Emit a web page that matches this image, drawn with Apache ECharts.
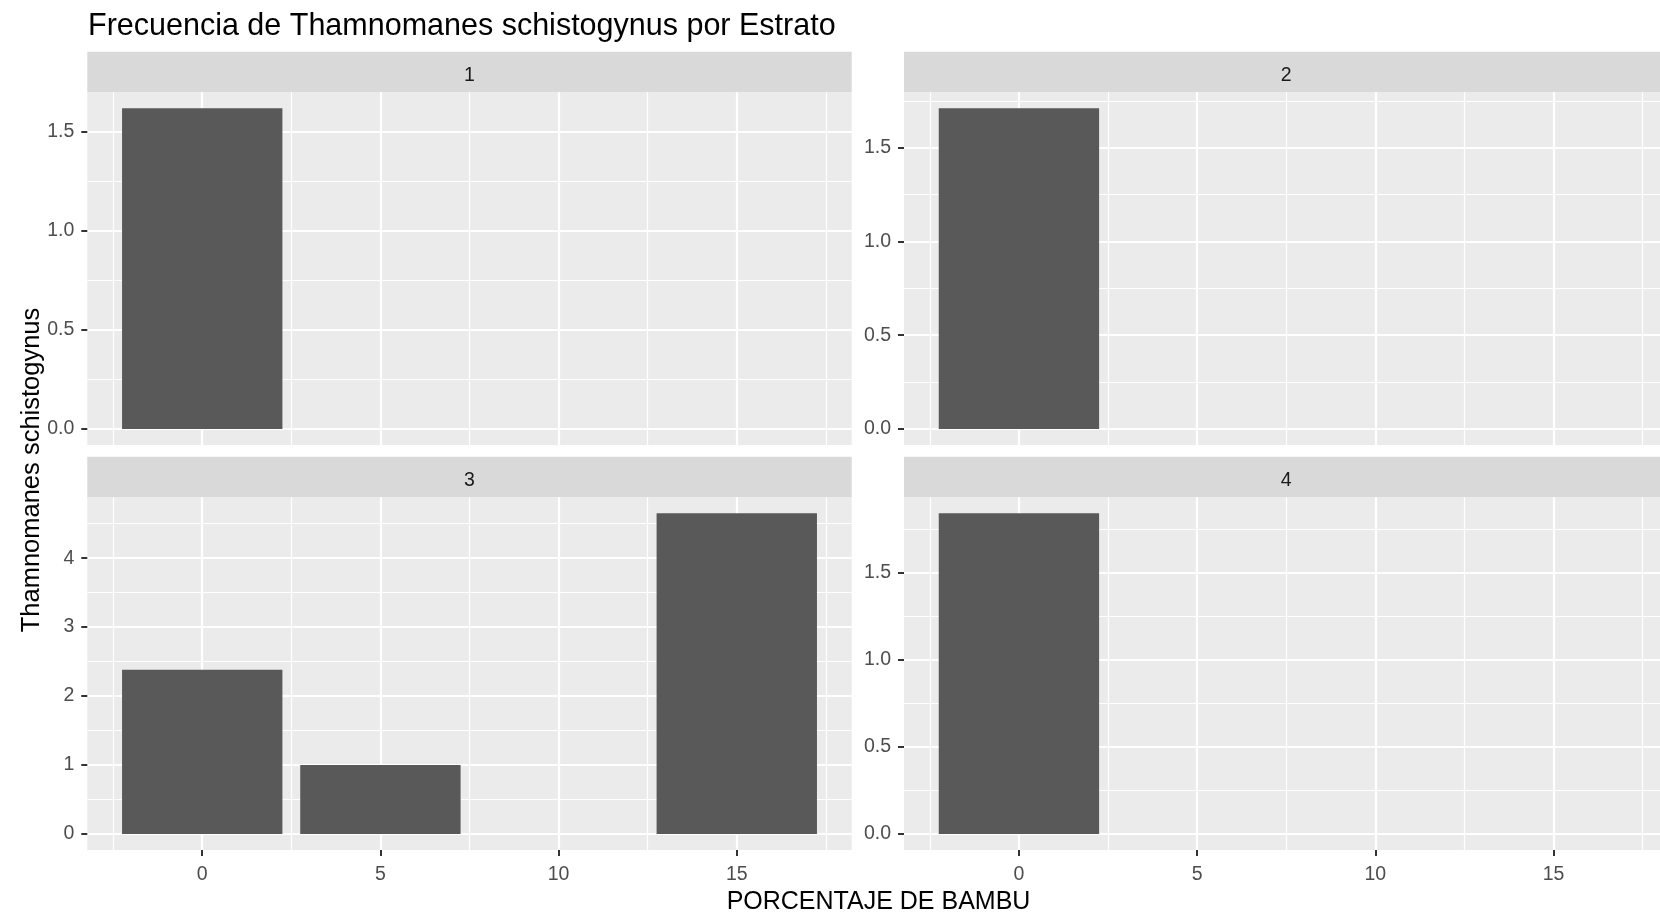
<!DOCTYPE html>
<html>
<head>
<meta charset="utf-8">
<script src="https://cdn.jsdelivr.net/npm/echarts@6/dist/echarts.min.js"></script>
<style>
html,body{margin:0;padding:0;background:#fff;}
#chart{width:1660px;height:918px;}
</style>
</head>
<body>
<div id="chart"></div>
<script>
// ---- data ----
const titleText = 'Frecuencia de Thamnomanes schistogynus por Estrato';
const xTitle = 'PORCENTAJE DE BAMBU';
const yTitle = 'Thamnomanes schistogynus';
const strata = ['1', '2', '3', '4'];
const xValues1 = [0];
const yValues1 = [1.62];
const xValues2 = [0];
const yValues2 = [1.71];
const xValues3 = [0, 5, 15];
const yValues3 = [2.38, 1.0, 4.65];
const xValues4 = [0];
const yValues4 = [1.84];
const xTicks = [0, 5, 10, 15];
const xMinorTicks = [-2.5, 2.5, 7.5, 12.5, 17.5];
const yTicks1 = [0, 0.5, 1, 1.5];
const yTicks2 = [0, 0.5, 1, 1.5];
const yTicks3 = [0, 1, 2, 3, 4];
const yTicks4 = [0, 0.5, 1, 1.5];
const yMinor1 = [0.25, 0.75, 1.25];
const yMinor2 = [0.25, 0.75, 1.25, 1.75];
const yMinor3 = [0.5, 1.5, 2.5, 3.5, 4.5];
const yMinor4 = [0.25, 0.75, 1.25, 1.75];

// ---- layout / style ----
const panelsX = [xValues1, xValues2, xValues3, xValues4];
const panelsY = [yValues1, yValues2, yValues3, yValues4];
const panelsYTicks = [yTicks1, yTicks2, yTicks3, yTicks4];
const panelsYMinor = [yMinor1, yMinor2, yMinor3, yMinor4];
const yDecimals = [1, 1, 0, 1];
const BAR_W = 4.5; // bar width in data units
const allX = [].concat(xValues1, xValues2, xValues3, xValues4);
const xLo = Math.min(...allX) - BAR_W / 2, xHi = Math.max(...allX) + BAR_W / 2;
const xPad = (xHi - xLo) * 0.05;
const X_MIN = xLo - xPad, X_MAX = xHi + xPad;

const LEFTS = [87.3, 904, 87.3, 904];
const TOPS = [92.3, 92.3, 497.3, 497.3];
const PW = 764.4, PH = 352.7, STRIP_H = 40.6;
const FONT = "'Liberation Sans', Arial, sans-serif";
const TICK_FS = 19.5;

const grids = [], xAxes = [], yAxes = [], series = [], graphics = [];
for (let i = 0; i < 4; i++) {
  grids.push({
    left: LEFTS[i], top: TOPS[i], width: PW, height: PH,
    show: true, backgroundColor: '#EBEBEB', borderWidth: 0,
    containLabel: false, outerBoundsMode: 'none'
  });
  const bottomRow = i >= 2;
  xAxes.push({
    type: 'value', gridIndex: i, min: X_MIN, max: X_MAX, position: 'bottom',
    axisLine: { show: false, onZero: false },
    axisTick: { show: bottomRow, customValues: xTicks, length: 6, lineStyle: { color: '#333333', width: 2 } },
    axisLabel: { show: bottomRow, customValues: xTicks, margin: 15, color: '#4D4D4D', fontSize: TICK_FS, fontFamily: FONT,
      showMinLabel: true, showMaxLabel: true },
    splitLine: { show: true, lineStyle: { color: '#FFFFFF', width: 2.2 } }
  });
  xAxes.push({
    type: 'value', gridIndex: i, min: X_MIN, max: X_MAX, position: 'top',
    axisLine: { show: false, onZero: false },
    axisTick: { show: false, customValues: xMinorTicks },
    axisLabel: { show: false, customValues: xMinorTicks },
    splitLine: { show: true, lineStyle: { color: '#FFFFFF', width: 1.2 } }
  });
  const ymax = Math.max(...panelsY[i]);
  const Y_MIN = -0.05 * ymax, Y_MAX = 1.05 * ymax;
  const dec = yDecimals[i];
  yAxes.push({
    type: 'value', gridIndex: i, min: Y_MIN, max: Y_MAX, position: 'left',
    axisLine: { show: false, onZero: false },
    axisTick: { show: true, customValues: panelsYTicks[i], length: 6, lineStyle: { color: '#333333', width: 2 } },
    axisLabel: { show: true, customValues: panelsYTicks[i], margin: 13, color: '#4D4D4D', fontSize: TICK_FS, fontFamily: FONT,
      padding: [7, 0, 0, 0],
      formatter: v => Number(v).toFixed(dec), showMinLabel: true, showMaxLabel: true },
    splitLine: { show: true, lineStyle: { color: '#FFFFFF', width: 2.2 } }
  });
  yAxes.push({
    type: 'value', gridIndex: i, min: Y_MIN, max: Y_MAX, position: 'right',
    axisLine: { show: false, onZero: false },
    axisTick: { show: false, customValues: panelsYMinor[i] },
    axisLabel: { show: false, customValues: panelsYMinor[i] },
    splitLine: { show: true, lineStyle: { color: '#FFFFFF', width: 1.2 } }
  });
  series.push({
    type: 'custom', xAxisIndex: 2 * i, yAxisIndex: 2 * i,
    data: panelsX[i].map((x, k) => [x, panelsY[i][k]]),
    encode: { x: 0, y: 1 },
    clip: true,
    renderItem: function (params, api) {
      const x = api.value(0), y = api.value(1);
      const p0 = api.coord([x - BAR_W / 2, y]);
      const p1 = api.coord([x + BAR_W / 2, 0]);
      return {
        type: 'rect',
        shape: { x: p0[0], y: p0[1], width: p1[0] - p0[0], height: p1[1] - p0[1] },
        style: { fill: '#595959' }
      };
    }
  });
  // strip
  graphics.push({
    type: 'rect', silent: true,
    shape: { x: LEFTS[i], y: TOPS[i] - STRIP_H, width: PW, height: STRIP_H },
    style: { fill: '#D9D9D9' }
  });
  graphics.push({
    type: 'text', silent: true,
    x: LEFTS[i] + PW / 2, y: TOPS[i] - STRIP_H / 2 + 3.5,
    style: { text: strata[i], fill: '#1A1A1A', fontSize: TICK_FS, fontFamily: FONT, align: 'center', verticalAlign: 'middle' }
  });
}
graphics.push({
  type: 'text', silent: true, x: 878.5, y: 902.5,
  style: { text: xTitle, fill: '#000000', fontSize: 25, fontFamily: FONT, align: 'center', verticalAlign: 'middle' }
});
graphics.push({
  type: 'text', silent: true, x: 31.5, y: 470, rotation: Math.PI / 2,
  style: { text: yTitle, fill: '#000000', fontSize: 25.5, fontFamily: FONT, align: 'center', verticalAlign: 'middle' }
});

const chart = echarts.init(document.getElementById('chart'), null, { renderer: 'canvas' });
chart.setOption({
  backgroundColor: '#FFFFFF',
  animation: false,
  title: {
    text: titleText, left: 88, top: 11, padding: 0,
    textStyle: { fontSize: 30.5, fontFamily: FONT, color: '#000000', fontWeight: 'normal' }
  },
  grid: grids,
  xAxis: xAxes,
  yAxis: yAxes,
  series: series,
  graphic: { elements: graphics }
});
</script>
</body>
</html>
